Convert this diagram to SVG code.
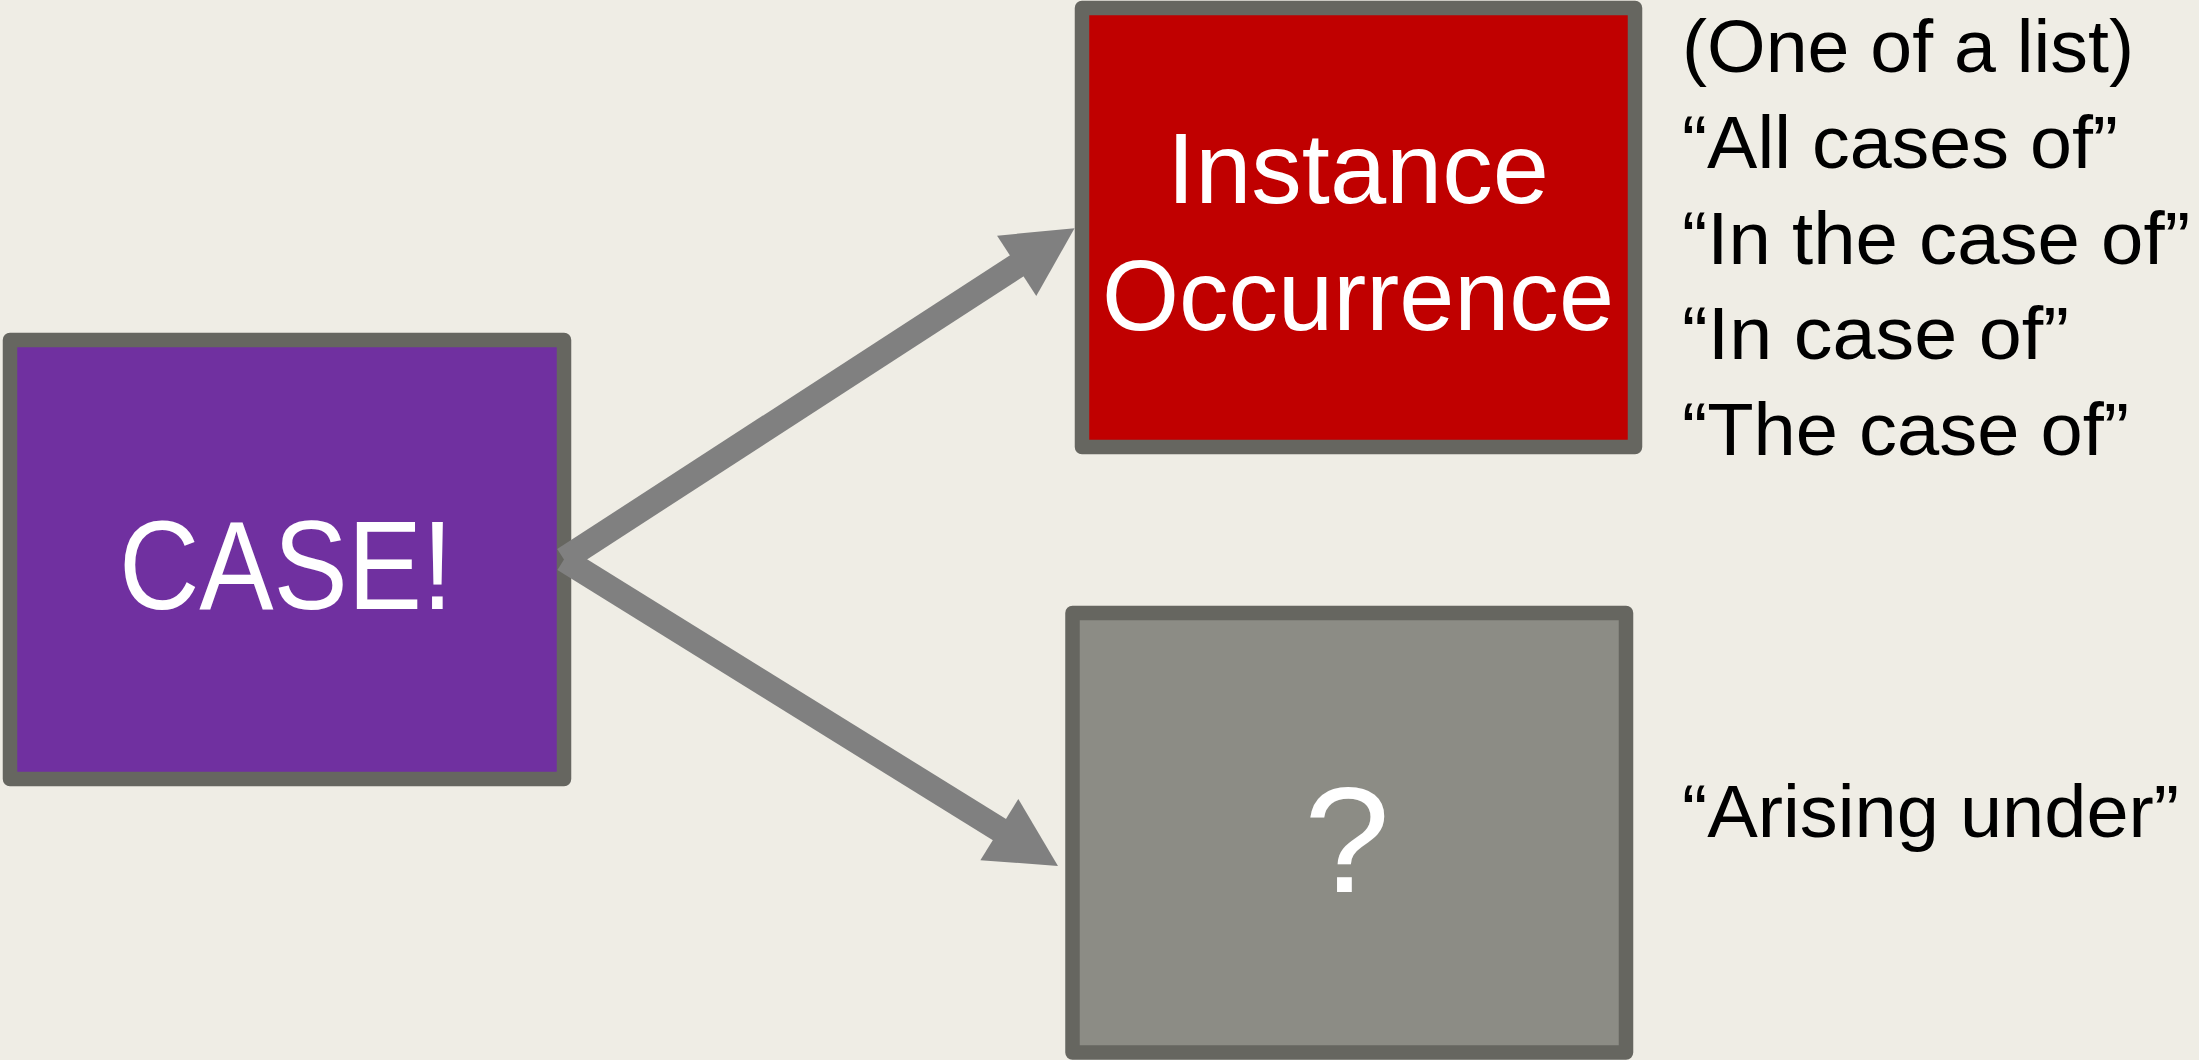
<svg xmlns="http://www.w3.org/2000/svg" width="2199" height="1060" viewBox="0 0 2199 1060">
  <style>
    .box { stroke: #666660; stroke-width: 14.5; stroke-linejoin: round; }
    .label { font-family: "Liberation Sans", Arial, sans-serif; fill: #ffffff; text-anchor: middle; }
    .note { font-family: "Liberation Sans", Arial, sans-serif; fill: #000000; font-size: 75px; }
    .link { fill: none; stroke: #808080; stroke-width: 25; stroke-linecap: butt; }
  </style>
  <defs>
    <marker id="head" markerUnits="userSpaceOnUse" orient="auto" refX="3" refY="36" markerWidth="70" markerHeight="72" overflow="visible">
      <path d="M0,0 L69,36 L0,72 Z" fill="#808080"/>
    </marker>
  </defs>

  <rect width="2199" height="1060" fill="#EFEDE5"/>

  <g id="node-case">
    <rect class="box" x="10" y="340" width="554" height="439" fill="#7030A0"/>
    <text class="label" x="286" y="609" font-size="126" textLength="334" lengthAdjust="spacingAndGlyphs">CASE!</text>
  </g>

  <g id="node-instance">
    <rect class="box" x="1082" y="8" width="553" height="439" fill="#C00000"/>
    <text class="label" x="1358" y="203" font-size="101">Instance</text>
    <text class="label" x="1358" y="330" font-size="101" textLength="512" lengthAdjust="spacingAndGlyphs">Occurrence</text>
  </g>

  <g id="node-unknown">
    <rect class="box" x="1072.5" y="613" width="553.5" height="439.5" fill="#8C8C85"/>
    <text class="label" x="1347" y="892" font-size="150" textLength="86" lengthAdjust="spacingAndGlyphs">?</text>
  </g>

  <g id="connectors">
    <path class="link" d="M564,559.5 L1019.2,264.2" marker-end="url(#head)"/>
    <path class="link" d="M564,559.5 L1001.9,831.2" marker-end="url(#head)"/>
  </g>

  <g id="notes-instance">
    <text class="note" x="1682" y="72" textLength="452" lengthAdjust="spacingAndGlyphs">(One of a list)</text>
    <text class="note" x="1682" y="168" textLength="436" lengthAdjust="spacingAndGlyphs">“All cases of”</text>
    <text class="note" x="1682" y="264" textLength="508" lengthAdjust="spacingAndGlyphs">“In the case of”</text>
    <text class="note" x="1682" y="359" textLength="387" lengthAdjust="spacingAndGlyphs">“In case of”</text>
    <text class="note" x="1682" y="455" textLength="447" lengthAdjust="spacingAndGlyphs">“The case of”</text>
  </g>

  <g id="notes-unknown">
    <text class="note" x="1682" y="837" textLength="497" lengthAdjust="spacingAndGlyphs">“Arising under”</text>
  </g>
</svg>
